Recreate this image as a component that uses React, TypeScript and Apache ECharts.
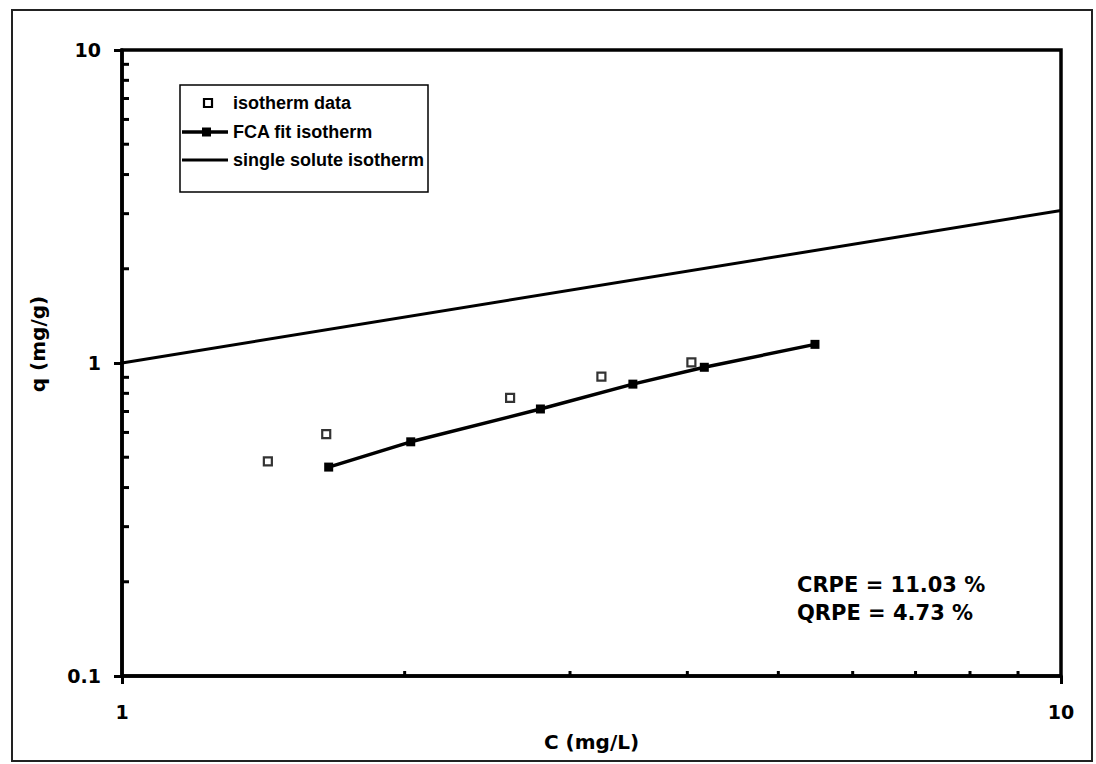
import React, { useEffect, useRef } from "react";
import * as echarts from "echarts";

// Isotherm data (open squares)
const isoC = [1.43, 1.65, 2.59, 3.24, 4.04];
const isoQ = [0.485, 0.593, 0.774, 0.905, 1.004];
// FCA fit isotherm (filled squares + line)
const fcaC = [1.66, 2.03, 2.79, 3.5, 4.17, 5.47];
const fcaQ = [0.465, 0.56, 0.713, 0.856, 0.969, 1.147];
// Single solute isotherm (line)
const ssC = [1, 10];
const ssQ = [1.0, 3.07];
// Minor tick positions
const xMinorTicks = [2, 3, 4, 5, 6, 7, 8, 9];
const yMinorTicks = [0.2, 0.3, 0.4, 0.5, 0.6, 0.7, 0.8, 0.9, 2, 3, 4, 5, 6, 7, 8, 9];

const legendLabels = ["isotherm data", "FCA fit isotherm", "single solute isotherm"];
const statLines = ["CRPE = 11.03 %", "QRPE = 4.73 %"];

const FONT = "'Liberation Sans', Arial, Helvetica, sans-serif";
const WIDE = "'DejaVu Sans', Verdana, sans-serif";

export default function App() {
  const ref = useRef<HTMLDivElement>(null);
  useEffect(() => {
    if (!ref.current) return;
    const chart = echarts.init(ref.current, undefined, { renderer: "svg" });
    const legX = 180, legY = 85, legW = 248, legH = 107;
    const rowY = [103, 132, 160];
    chart.setOption({
      animation: false,
      backgroundColor: "#fff",
      grid: {
        left: 122,
        right: 35,
        top: 50,
        bottom: 88,
        show: true,
        borderColor: "#000",
        borderWidth: 3.5,
      },
      xAxis: {
        type: "log",
        logBase: 10,
        min: 1,
        max: 10,
        name: "C (mg/L)",
        nameLocation: "middle",
        nameGap: 56,
        nameTextStyle: { fontFamily: WIDE, fontWeight: "bold", fontSize: 20, color: "#000" },
        axisLine: { lineStyle: { color: "#000", width: 3.5 } },
        axisTick: { show: true, inside: false, length: 8, lineStyle: { color: "#000", width: 3 } },
        axisLabel: { margin: 26, fontFamily: WIDE, fontWeight: "bold", fontSize: 19, color: "#000" },
        splitLine: { show: false },
      },
      yAxis: {
        type: "log",
        logBase: 10,
        min: 0.1,
        max: 10,
        axisLine: { lineStyle: { color: "#000", width: 3.5 } },
        axisTick: { show: true, inside: false, length: 8, lineStyle: { color: "#000", width: 3 } },
        axisLabel: { margin: 21, fontFamily: WIDE, fontWeight: "bold", fontSize: 19, color: "#000" },
        splitLine: { show: false },
      },
      series: [
        {
          name: "single solute isotherm",
          type: "line",
          data: ssC.map((c, i) => [c, ssQ[i]]),
          symbol: "none",
          lineStyle: { color: "#000", width: 3 },
          z: 3,
        },
        {
          name: "FCA fit isotherm",
          type: "line",
          data: fcaC.map((c, i) => [c, fcaQ[i]]),
          symbol: "rect",
          symbolSize: 9,
          itemStyle: { color: "#000" },
          lineStyle: { color: "#000", width: 3.5 },
          z: 4,
        },
        {
          name: "isotherm data",
          type: "scatter",
          data: isoC.map((c, i) => [c, isoQ[i]]),
          symbol: "rect",
          symbolSize: 8,
          itemStyle: { color: "#fff", borderColor: "#000", borderWidth: 2.2 },
          z: 5,
        },
        {
          name: "xminor",
          type: "custom",
          data: xMinorTicks.map((v) => [v, 0.1]),
          clip: false,
          silent: true,
          renderItem: (params: any, api: any) => {
            const p = api.coord([api.value(0), api.value(1)]);
            return {
              type: "line",
              shape: { x1: p[0], y1: p[1], x2: p[0], y2: p[1] - 5 },
              style: { stroke: "#000", lineWidth: 3 },
            };
          },
        },
        {
          name: "yminor",
          type: "custom",
          data: yMinorTicks.map((v) => [1, v]),
          clip: false,
          silent: true,
          renderItem: (params: any, api: any) => {
            const p = api.coord([api.value(0), api.value(1)]);
            return {
              type: "line",
              shape: { x1: p[0], y1: p[1], x2: p[0] + 7, y2: p[1] },
              style: { stroke: "#000", lineWidth: 3 },
            };
          },
        },
      ],
      graphic: [
        {
          type: "rect",
          shape: { x: 12, y: 10, width: 1080, height: 751 },
          style: { fill: "none", stroke: "#222", lineWidth: 2 },
          silent: true,
        },
        {
          type: "text",
          x: 38,
          y: 344,
          rotation: Math.PI / 2,
          style: {
            text: "q (mg/g)",
            fontFamily: WIDE,
            fontWeight: "bold",
            fontSize: 20,
            fill: "#000",
            align: "center",
            verticalAlign: "middle",
          },
        },
        {
          type: "rect",
          shape: { x: legX, y: legY, width: legW, height: legH },
          style: { fill: "#fff", stroke: "#000", lineWidth: 1.5 },
          z: 10,
        },
        {
          type: "rect",
          shape: { x: 204, y: rowY[0] - 4, width: 8, height: 8 },
          style: { fill: "#fff", stroke: "#000", lineWidth: 2.2 },
          z: 11,
        },
        {
          type: "line",
          shape: { x1: 182, y1: rowY[1], x2: 228, y2: rowY[1] },
          style: { stroke: "#000", lineWidth: 3.5 },
          z: 11,
        },
        {
          type: "rect",
          shape: { x: 202, y: rowY[1] - 4.5, width: 9, height: 9 },
          style: { fill: "#000" },
          z: 11,
        },
        {
          type: "line",
          shape: { x1: 182, y1: rowY[2], x2: 228, y2: rowY[2] },
          style: { stroke: "#000", lineWidth: 3 },
          z: 11,
        },
        ...legendLabels.map((t, i) => ({
          type: "text",
          x: 233,
          y: rowY[i],
          z: 11,
          style: {
            text: t,
            fontFamily: FONT,
            fontWeight: "bold",
            fontSize: 18,
            fill: "#000",
            align: "left",
            verticalAlign: "middle",
          },
        })),
        ...statLines.map((t, i) => ({
          type: "text",
          x: 797,
          y: 585 + i * 28,
          style: {
            text: t,
            fontFamily: WIDE,
            fontWeight: "bold",
            fontSize: 21,
            fill: "#000",
            align: "left",
            verticalAlign: "middle",
          },
        })),
      ],
    });
    return () => chart.dispose();
  }, []);
  return (
    <div
      ref={ref}
      style={{ position: "fixed", left: 0, top: 0, width: 1096, height: 764, background: "#fff" }}
    />
  );
}
